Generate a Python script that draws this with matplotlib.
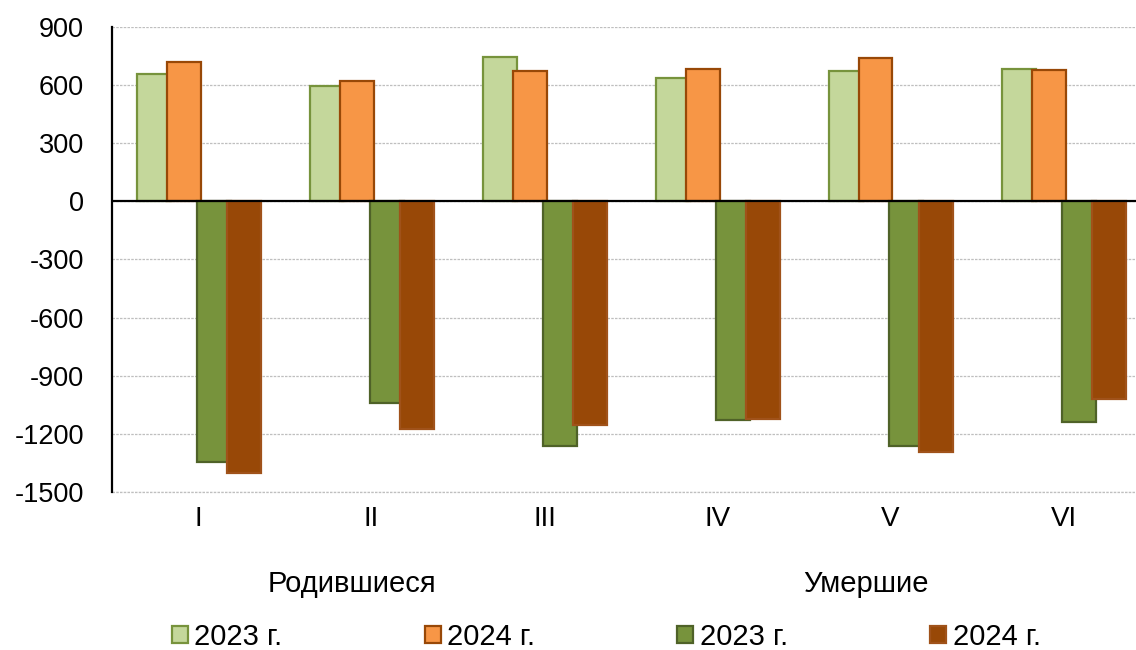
import matplotlib
matplotlib.use("Agg")
import matplotlib.pyplot as plt
import numpy as np

plt.rcParams['font.family'] = ['Liberation Sans', 'DejaVu Sans']

categories = ["I", "II", "III", "IV", "V", "VI"]
born_2023 = [655, 596, 743, 636, 669, 684]
born_2024 = [717, 622, 672, 683, 741, 679]
died_2023 = [-1345, -1041, -1265, -1131, -1264, -1141]
died_2024 = [-1400, -1176, -1152, -1121, -1295, -1021]
series_labels = ["2023 г.", "2024 г.", "2023 г.", "2024 г."]
group_labels = ["Родившиеся", "Умершие"]
yticks = [900, 600, 300, 0, -300, -600, -900, -1200, -1500]

W, H = 1136, 650
fig = plt.figure(figsize=(W / 100, H / 100), dpi=100)
left_px, right_px, top_px, bot_px = 112, 1150, 26.7, 492
ax = fig.add_axes([left_px / W, (H - bot_px) / H, (right_px - left_px) / W, (bot_px - top_px) / H])

x = np.arange(len(categories))
cat_px = (right_px - left_px) / len(categories)
width = 34 / cat_px
offs = np.array([-45, -15, 15, 45]) / cat_px

fills = ["#C4D79B", "#F79646", "#77933C", "#984807"]
edges = ["#77933C", "#984807", "#4F6228", "#A0521A"]
data = [born_2023, born_2024, died_2023, died_2024]
handles = []
for i, (vals, fc, ec, lab) in enumerate(zip(data, fills, edges, series_labels)):
    b = ax.bar(x + offs[i], vals, width=width, color=fc, edgecolor=ec,
               linewidth=1.6, label=lab, zorder=2 + i)
    handles.append(b)

ax.set_xlim(-0.5, len(categories) - 0.5)
ax.set_ylim(-1500, 900)
ax.set_yticks(yticks)
ax.set_yticklabels([str(v) for v in yticks], fontsize=19.5)
ax.set_xticks(x)
ax.set_xticklabels(categories, fontsize=20)
ax.tick_params(axis='y', length=0, pad=20)
ax.tick_params(axis='x', length=0, pad=10)

ax.grid(axis='y', color='#BFBFBF', linestyle=(0, (2, 1)), linewidth=0.9, zorder=0)
ax.set_axisbelow(True)
ax.axhline(-1500, color='#BFBFBF', linestyle=(0, (2, 1)), linewidth=0.9, zorder=0, clip_on=False)
for s in ['top', 'right', 'bottom']:
    ax.spines[s].set_visible(False)
ax.spines['left'].set_color('black')
ax.spines['left'].set_linewidth(1.6)
ax.axhline(0, color='black', linewidth=1.6, zorder=10)

fig.text(351.7 / W, (H - 583.5) / H, group_labels[0], fontsize=21, ha='center', va='center')
fig.text(866 / W, (H - 583.5) / H, group_labels[1], fontsize=21, ha='center', va='center')

leg = fig.legend(handles=handles, labels=series_labels, ncol=4, frameon=False,
                 loc='center left', bbox_to_anchor=(171.7 / W, (H - 637) / H),
                 fontsize=21, handlelength=0.55, handleheight=0.55,
                 handletextpad=0.23, columnspacing=4.87, borderpad=0, borderaxespad=0)

fig.savefig("out.png", dpi=100)
